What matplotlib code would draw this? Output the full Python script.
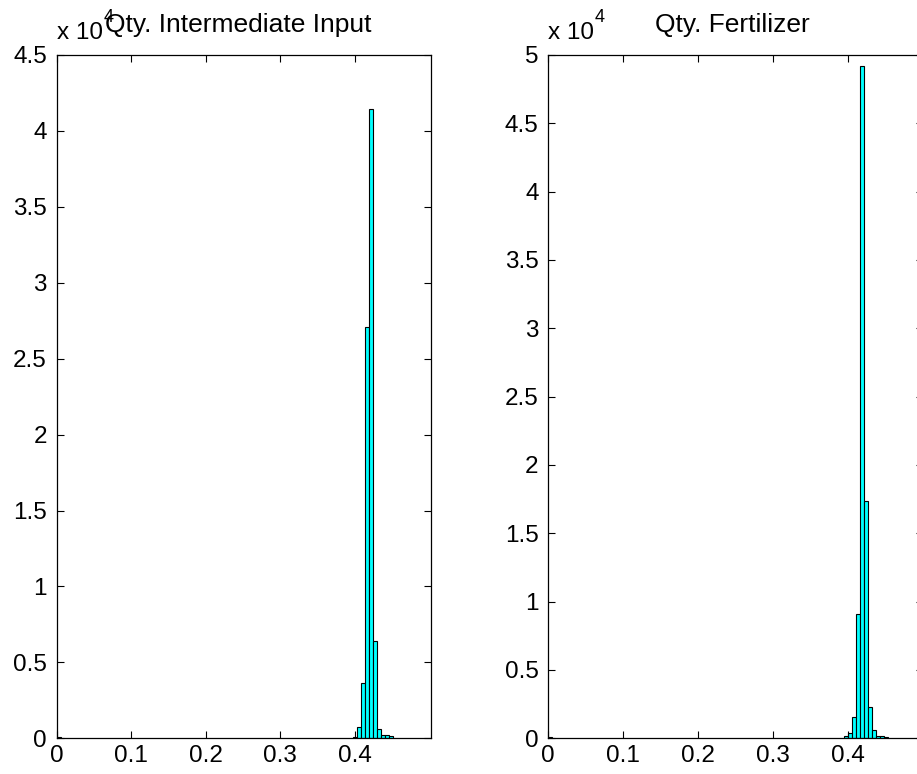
import matplotlib
matplotlib.use("Agg")
import matplotlib.pyplot as plt
from matplotlib.ticker import FuncFormatter

plt.rcParams['font.family'] = ['Liberation Sans', 'DejaVu Sans']

# histogram bins (bin centres, counts)
inter_centers = [0.0027, 0.4001, 0.4055, 0.4108, 0.4162, 0.4216, 0.4269,
                 0.4323, 0.4377, 0.4431, 0.4484]
inter_counts = [100, 110, 770, 3640, 27100, 41450, 6410, 640, 240, 220, 120]
inter_binw = 0.00537

fert_centers = [0.0027, 0.3971, 0.4024, 0.4077, 0.4131, 0.4184, 0.4237,
                0.4291, 0.4344, 0.4397, 0.4451, 0.4504]
fert_counts = [100, 150, 420, 1590, 9100, 49200, 17400, 2300, 590, 150, 150, 100]
fert_binw = 0.00533

titles = ["Qty. Intermediate Input", "Qty. Fertilizer"]
xticks = [0, 0.1, 0.2, 0.3, 0.4]
yticks_inter = [0, 5000, 10000, 15000, 20000, 25000, 30000, 35000, 40000, 45000]
yticks_fert = [0, 5000, 10000, 15000, 20000, 25000, 30000, 35000, 40000, 45000, 50000]

W, H = 917, 774
FS = 17.5     # tick labels
TFS = 19      # titles
fig = plt.figure(figsize=(W / 100, H / 100), dpi=100)

def fmt(v, pos):
    return "%g" % (v / 1e4)

def setup(ax, centers, counts, binw, yticks, xmax, title, tx):
    ax.bar(centers, counts, width=binw, color=(0, 1, 1), edgecolor="black",
           linewidth=0.8, align="center")
    ax.set_xlim(0, xmax)
    ax.set_ylim(0, yticks[-1])
    ax.set_xticks(xticks)
    ax.set_xticklabels(["0", "0.1", "0.2", "0.3", "0.4"])
    ax.set_yticks(yticks)
    ax.yaxis.set_major_formatter(FuncFormatter(fmt))
    ax.tick_params(direction="in", length=5, width=0.8, labelsize=FS,
                   top=True, right=True, colors="black")
    ax.tick_params(axis="y", pad=7)
    ax.tick_params(axis="x", pad=5)
    for sp in ax.spines.values():
        sp.set_linewidth(0.9)
    # MATLAB style title and exponent label
    ax.text(tx, 1.0336, title, transform=ax.transAxes, fontsize=TFS,
            ha="center", va="baseline")
    ax.text(0.0, 1.0227, "x 10", transform=ax.transAxes, fontsize=FS,
            ha="left", va="baseline")
    ax.text(0.125, 1.048, "4", transform=ax.transAxes, fontsize=13,
            ha="left", va="baseline")

ax1 = fig.add_axes([56.7 / W, (H - 738.3) / H, 374.3 / W, 683.3 / H])
setup(ax1, inter_centers, inter_counts, inter_binw, yticks_inter, 0.5023,
      titles[0], 0.484)

ax2 = fig.add_axes([548.3 / W, (H - 738.3) / H, 374.3 / W, 683.3 / H])
setup(ax2, fert_centers, fert_counts, fert_binw, yticks_fert, 0.499,
      titles[1], 0.493)

fig.savefig("out.png", dpi=100)
